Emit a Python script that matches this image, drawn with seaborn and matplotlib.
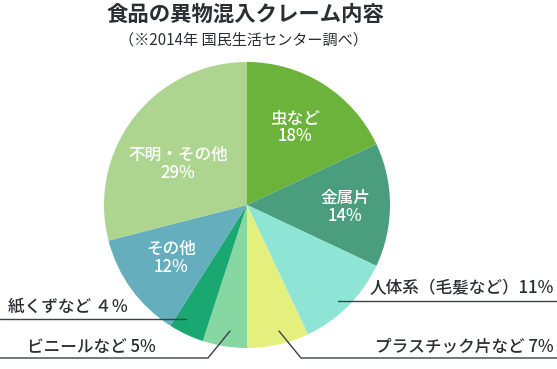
import matplotlib.pyplot as plt
import seaborn as sns

categories = ["虫など", "金属片", "人体系（毛髪など）", "プラスチック片など",
              "ビニールなど", "紙くずなど", "その他", "不明・その他"]
shares = [18, 14, 11, 7, 5, 4, 12, 29]
colors = ["#6bb33b", "#4a9e7d", "#8fe5d5", "#e4f07e",
          "#86d7a1", "#1aa872", "#64aebd", "#aed590"]

sns.set_theme(style="white")
plt.rcParams["font.family"] = ["Noto Sans CJK JP", "DejaVu Sans"]

W, H = 557, 369
fig = plt.figure(figsize=(W / 100, H / 100), dpi=100)
ax = fig.add_axes([0, 0, 1, 1])

cx, cy, r = 247, H - 205, 143
ax.pie(shares, colors=colors, startangle=90, counterclock=False,
       center=(cx, cy), radius=r, wedgeprops=dict(linewidth=0))
ax.set_xlim(0, W)
ax.set_ylim(0, H)
ax.set_aspect("equal")
ax.axis("off")

dark = "#2b2f33"
ax.text(245, H - 14, "食品の異物混入クレーム内容", ha="center", va="center",
        fontsize=15.4, fontweight="bold", color=dark)
ax.text(243, H - 40, "（※2014年 国民生活センター調べ）", ha="center", va="center",
        fontsize=10.9, color=dark)

# labels inside slices
inner = [(0, 295, 118), (1, 345, 198), (6, 171, 249), (7, 178, 155)]
for i, x, y in inner:
    ax.text(x, H - y, categories[i], ha="center", va="center", fontsize=12,
            color="white", fontweight="medium")
    ax.text(x, H - y - 18, f"{shares[i]}%", ha="center", va="center",
            fontsize=12, color="white", fontweight="medium")

# outside labels with leader lines
lc = "#3a4046"
fs = 12
ax.plot([338, W], [H - 301, H - 301], color=lc, lw=1)
ax.text(554, H - 288, f"{categories[2]}{shares[2]}%", ha="right", va="center",
        fontsize=fs, color=dark, fontweight="medium")

ax.plot([279, 301, W], [H - 331, H - 358, H - 358], color=lc, lw=1)
ax.text(554, H - 347, f"{categories[3]} {shares[3]}%", ha="right", va="center",
        fontsize=fs, color=dark, fontweight="medium")

ax.plot([0, 208, 230], [H - 358, H - 358, H - 331], color=lc, lw=1)
ax.text(27, H - 347, f"{categories[4]} {shares[4]}%", ha="left", va="center",
        fontsize=fs, color=dark, fontweight="medium")

ax.plot([0, 186], [H - 319, H - 319], color=lc, lw=1)
ax.text(8, H - 307, f"{categories[5]} ４％", ha="left", va="center",
        fontsize=fs, color=dark, fontweight="medium")

fig.savefig("out.png", dpi=100)
